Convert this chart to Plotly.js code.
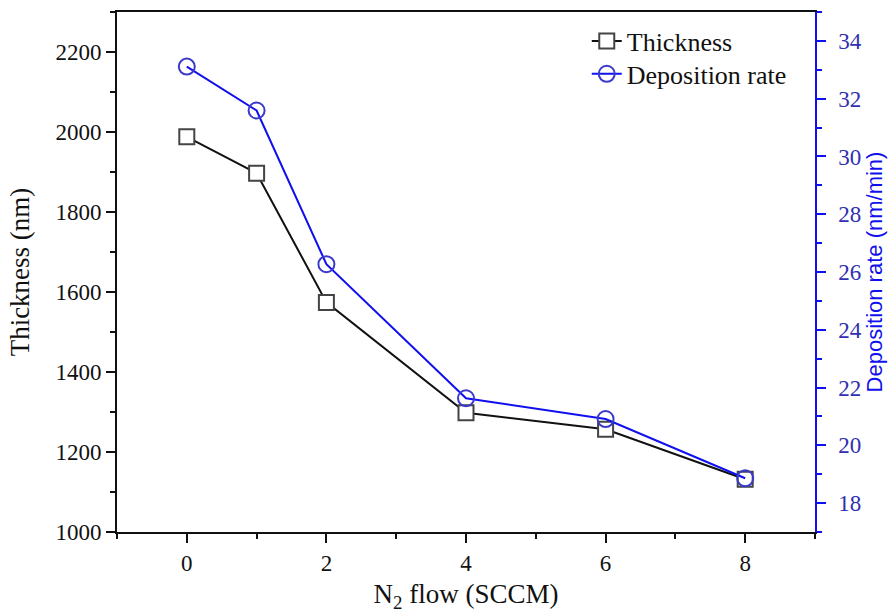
<!DOCTYPE html>
<html>
<head>
<meta charset="utf-8">
<script src="https://cdn.plot.ly/plotly-3.0.1.min.js"></script>
<style>html,body{margin:0;padding:0;background:#fff;}#chart{width:892px;height:616px;}</style>
</head>
<body>
<div id="chart"></div>
<script>
// Data
const n2Flow = [0, 1, 2, 4, 6, 8];
const thickness = [1988, 1897, 1574, 1298, 1257, 1132];
const depositionRate = [33.11, 31.59, 26.27, 21.63, 20.91, 18.86];
const xTickVals = [0, 2, 4, 6, 8];
const seriesNames = ['Thickness', 'Deposition rate'];

const serif = 'Liberation Serif, Times New Roman, serif';
const sans = 'Liberation Sans, Arial, sans-serif';
const blue = '#1010ee';

const traces = [
  {
    x: n2Flow, y: thickness, name: seriesNames[0], type: 'scatter', mode: 'lines+markers',
    line: {color: '#111111', width: 2},
    marker: {symbol: 'square', size: 15, color: '#ffffff', line: {color: '#444444', width: 2}},
    legend: 'legend'
  },
  {
    x: n2Flow, y: depositionRate, name: seriesNames[1], type: 'scatter', mode: 'lines+markers',
    yaxis: 'y2',
    line: {color: blue, width: 2},
    marker: {symbol: 'circle', size: 16, color: 'rgba(255,255,255,0)', line: {color: '#3a3acc', width: 2}},
    legend: 'legend2'
  }
];

const legendBase = {
  x: 0.673, xanchor: 'left', yanchor: 'middle',
  font: {family: serif, size: 26, color: '#111'},
  bgcolor: 'rgba(255,255,255,0)', borderwidth: 0
};

const layout = {
  width: 892, height: 616,
  margin: {l: 117, r: 77, t: 12, b: 84},
  paper_bgcolor: '#ffffff', plot_bgcolor: '#ffffff',
  showlegend: true,
  legend: Object.assign({}, legendBase, {y: 0.944}),
  legend2: Object.assign({}, legendBase, {y: 0.881}),
  xaxis: {
    range: [-1, 9], tickvals: xTickVals, ticktext: xTickVals.map(String),
    showgrid: false, zeroline: false,
    showline: true, linecolor: '#111', linewidth: 2, mirror: true,
    ticks: 'outside', ticklen: 9, tickwidth: 2, tickcolor: '#111',
    minor: {dtick: 1, tick0: 0, ticks: 'outside', ticklen: 5, tickwidth: 2, tickcolor: '#111', showgrid: false},
    tickfont: {family: serif, size: 23, color: '#111'},
    title: {text: 'N<sub>2</sub> flow (SCCM)', font: {family: serif, size: 27, color: '#111'}, standoff: 10}
  },
  yaxis: {
    range: [1000, 2300], dtick: 200, tick0: 1000,
    showgrid: false, zeroline: false,
    showline: true, linecolor: '#111', linewidth: 2,
    ticks: 'outside', ticklen: 9, tickwidth: 2, tickcolor: '#111',
    minor: {dtick: 100, tick0: 1000, ticks: 'outside', ticklen: 5, tickwidth: 2, tickcolor: '#111', showgrid: false},
    tickfont: {family: serif, size: 23, color: '#111'},
    title: {text: 'Thickness (nm)', font: {family: serif, size: 27, color: '#111'}, standoff: 18}
  },
  yaxis2: {
    overlaying: 'y', side: 'right',
    range: [17, 35], dtick: 2, tick0: 0,
    showgrid: false, zeroline: false,
    showline: true, linecolor: blue, linewidth: 2,
    ticks: 'outside', ticklen: 9, tickwidth: 2, tickcolor: blue,
    minor: {dtick: 1, tick0: 0, ticks: 'outside', ticklen: 5, tickwidth: 2, tickcolor: blue, showgrid: false},
    tickfont: {family: serif, size: 23, color: '#3030b0'},
    tickprefix: '\u00a0\u200a',
    title: {text: 'Deposition rate (nm/min)', font: {family: sans, size: 22, color: blue}, standoff: 0}
  }
};

Plotly.newPlot('chart', traces, layout, {displayModeBar: false, staticPlot: true});
</script>
</body>
</html>
